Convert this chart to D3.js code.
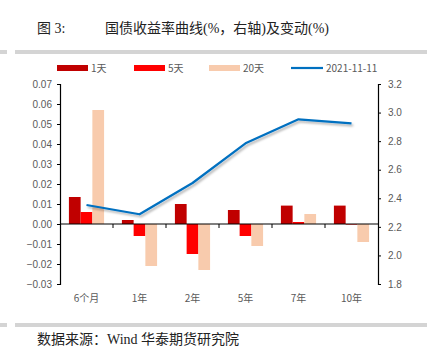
<!DOCTYPE html>
<html>
<head>
<meta charset="utf-8">
<script src="https://cdn.jsdelivr.net/npm/d3@7/dist/d3.min.js"></script>
<style>
  html, body { margin: 0; padding: 0; background: #fff; }
  svg { display: block; }
</style>
</head>
<body>
<svg id="chart" width="433" height="348"></svg>
<script>
// Tenors along the curve
const categories = ["6个月", "1年", "2年", "5年", "7年", "10年"];
// Yield changes (%, left axis)
const change1d  = [0.0135, 0.002, 0.010, 0.007, 0.0092, 0.0092];
const change5d  = [0.006, -0.006, -0.015, -0.006, 0.001, -0.0003];
const change20d = [0.057, -0.021, -0.023, -0.011, 0.005, -0.009];
// Yield curve (%, right axis)
const curveLabel = "2021-11-11";
const curve = [2.353, 2.288, 2.507, 2.785, 2.953, 2.925];
// Axis ticks
const leftTicks  = [-0.03, -0.02, -0.01, 0, 0.01, 0.02, 0.03, 0.04, 0.05, 0.06, 0.07];
const rightTicks = [1.8, 2.0, 2.2, 2.4, 2.6, 2.8, 3.0, 3.2];

const seriesNames = ["1天", "5天", "20天"];
const seriesValues = [change1d, change5d, change20d];
const seriesColors = ["#C00000", "#FF0000", "#F8CBAD"];
const lineColor = "#0070C0";

const svg = d3.select("#chart");
const cjk = "'Noto Sans CJK SC', 'Noto Sans', sans-serif";
const serif = "'Liberation Serif', 'Noto Sans CJK SC', serif";
const textGrey = "#595959";

// Frame: title, rules, footer
svg.append("text").attr("x", 37).attr("y", 33)
  .attr("font-family", serif).attr("font-size", 14).attr("fill", "#222")
  .text("图 3:");
svg.append("text").attr("x", 105).attr("y", 33)
  .attr("font-family", serif).attr("font-size", 14).attr("fill", "#222")
  .text("国债收益率曲线(%，右轴)及变动(%)");
[[0, 7], [15, 427]].forEach(([a, b]) => {
  svg.append("rect").attr("x", a).attr("y", 50).attr("width", b - a).attr("height", 4).attr("fill", "#D4D4D4");
  svg.append("rect").attr("x", a).attr("y", 323).attr("width", b - a).attr("height", 4).attr("fill", "#D4D4D4");
});
svg.append("text").attr("x", 37).attr("y", 344)
  .attr("font-family", serif).attr("font-size", 14).attr("fill", "#222")
  .text("数据来源：Wind 华泰期货研究院");

// Plot geometry
const plotLeft = 60, plotRight = 378, plotTop = 84, plotBottom = 284;

const x0 = d3.scaleBand().domain(categories).range([plotLeft, plotRight]).padding(0);
const x1 = d3.scaleBand().domain(seriesNames).range([0, x0.bandwidth()])
  .paddingInner(0).paddingOuter(0.76);
const yL = d3.scaleLinear().domain([-0.03, 0.07]).range([plotBottom, plotTop]);
const yR = d3.scaleLinear().domain([1.8, 3.2]).range([plotBottom, plotTop]);

// Bars
seriesNames.forEach((name, si) => {
  svg.append("g").selectAll("rect")
    .data(seriesValues[si])
    .join("rect")
    .attr("x", (d, i) => x0(categories[i]) + x1(name))
    .attr("width", x1.bandwidth())
    .attr("y", d => yL(Math.max(0, d)))
    .attr("height", d => Math.abs(yL(d) - yL(0)))
    .attr("fill", seriesColors[si]);
});

// Left axis
const gL = svg.append("g").attr("transform", `translate(${plotLeft},0)`)
  .call(d3.axisLeft(yL).tickValues(leftTicks).tickFormat(d3.format(".2f")).tickSize(3).tickPadding(5));
gL.select(".domain").attr("stroke", "#000").attr("stroke-width", 1.2);
gL.selectAll(".tick line").attr("stroke", "#000");
gL.selectAll("text").attr("font-family", "'Liberation Sans', Arial, sans-serif")
  .attr("font-size", 10).attr("fill", textGrey);

// Right axis
const gR = svg.append("g").attr("transform", `translate(${plotRight},0)`)
  .call(d3.axisRight(yR).tickValues(rightTicks).tickFormat(d3.format(".1f")).tickSize(3).tickPadding(7));
gR.select(".domain").attr("stroke", "#000").attr("stroke-width", 1.2);
gR.selectAll(".tick line").attr("stroke", "#000");
gR.selectAll("text").attr("font-family", "'Liberation Sans', Arial, sans-serif")
  .attr("font-size", 10).attr("fill", textGrey);

// Category axis along zero
const zeroY = yL(0);
svg.append("line").attr("x1", plotLeft).attr("x2", plotRight).attr("y1", zeroY).attr("y2", zeroY)
  .attr("stroke", "#000").attr("stroke-width", 1.2);
svg.append("g").selectAll("line")
  .data(categories.slice(1))
  .join("line")
  .attr("x1", d => x0(d)).attr("x2", d => x0(d))
  .attr("y1", zeroY).attr("y2", zeroY + 4)
  .attr("stroke", "#000");
svg.append("g").selectAll("text")
  .data(categories)
  .join("text")
  .attr("x", d => x0(d) + x0.bandwidth() / 2)
  .attr("y", 302)
  .attr("text-anchor", "middle")
  .attr("font-family", cjk).attr("font-size", 10).attr("fill", textGrey)
  .text(d => d);

// Yield curve with soft shadow
const defs = svg.append("defs");
const f = defs.append("filter").attr("id", "shadow").attr("x", "-10%").attr("y", "-20%")
  .attr("width", "130%").attr("height", "150%");
f.append("feDropShadow").attr("dx", 1.5).attr("dy", 2).attr("stdDeviation", 1.2)
  .attr("flood-color", "#000").attr("flood-opacity", 0.3);

const line = d3.line()
  .x((d, i) => x0(categories[i]) + x0.bandwidth() / 2)
  .y(d => yR(d));
svg.append("path").datum(curve)
  .attr("d", line)
  .attr("fill", "none")
  .attr("stroke", lineColor)
  .attr("stroke-width", 2.2)
  .attr("stroke-linejoin", "round")
  .attr("filter", "url(#shadow)");

// Legend
const legendY = 68;
const legendItems = [
  { name: seriesNames[0], color: seriesColors[0], x: 57, type: "bar" },
  { name: seriesNames[1], color: seriesColors[1], x: 134, type: "bar" },
  { name: seriesNames[2], color: seriesColors[2], x: 209, type: "bar" },
  { name: curveLabel, color: lineColor, x: 291, type: "line" }
];
const lg = svg.append("g");
legendItems.forEach(it => {
  if (it.type === "bar") {
    lg.append("rect").attr("x", it.x).attr("y", legendY - 3).attr("width", 31).attr("height", 6).attr("fill", it.color);
  } else {
    lg.append("line").attr("x1", it.x).attr("x2", it.x + 32).attr("y1", legendY).attr("y2", legendY)
      .attr("stroke", it.color).attr("stroke-width", 2.2);
  }
  lg.append("text").attr("x", it.x + (it.type === "bar" ? 34 : 35)).attr("y", legendY + 3.5)
    .attr("font-family", cjk).attr("font-size", 10).attr("fill", textGrey)
    .text(it.name);
});
</script>
</body>
</html>
